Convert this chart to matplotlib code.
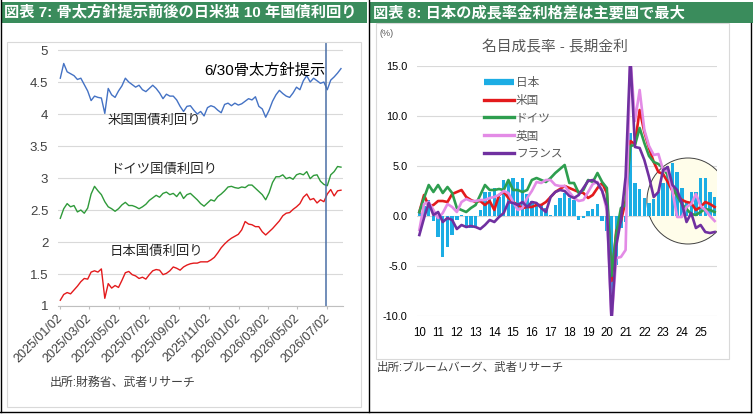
import numpy as np
import pandas as pd
import matplotlib
matplotlib.use('Agg')
import matplotlib.pyplot as plt
from matplotlib.patches import Rectangle, Ellipse
from matplotlib.lines import Line2D

plt.rcParams['font.family'] = ['Liberation Sans', 'Noto Sans CJK JP', 'DejaVu Sans']

# ---- left panel data: weekly 10y yields (%) ----
us_10y = [4.56, 4.79, 4.66, 4.63, 4.60, 4.54, 4.56, 4.46, 4.36, 4.21,
          4.28, 4.26, 4.25, 4.01, 4.40, 4.30, 4.26, 4.36, 4.44, 4.56,
          4.50, 4.46, 4.42, 4.45, 4.38, 4.35, 4.40, 4.45, 4.40, 4.33,
          4.24, 4.31, 4.28, 4.28, 4.22, 4.12, 4.04, 4.12, 4.13, 4.06,
          4.00, 4.04, 3.97, 4.10, 4.13, 4.11, 4.06, 4.02, 4.15, 4.17,
          4.13, 4.17, 4.14, 4.16, 4.20, 4.24, 4.22, 4.27, 4.12, 4.08,
          3.95, 4.06, 4.20, 4.30, 4.37, 4.32, 4.28, 4.26, 4.33, 4.42,
          4.38, 4.52, 4.60, 4.50, 4.56, 4.52, 4.48, 4.50, 4.38, 4.53,
          4.58, 4.64, 4.71]
de_10y = [2.37, 2.52, 2.60, 2.55, 2.57, 2.47, 2.50, 2.45, 2.53, 2.75,
          2.87, 2.80, 2.74, 2.63, 2.55, 2.52, 2.48, 2.52, 2.58, 2.62,
          2.57, 2.57, 2.55, 2.52, 2.55, 2.59, 2.65, 2.69, 2.73, 2.70,
          2.76, 2.78, 2.74, 2.76, 2.71, 2.78, 2.68, 2.74, 2.76, 2.71,
          2.66, 2.60, 2.56, 2.61, 2.66, 2.64, 2.71, 2.75, 2.80, 2.86,
          2.87, 2.85, 2.84, 2.86, 2.85, 2.89, 2.89, 2.84, 2.79, 2.74,
          2.66, 2.77, 2.93, 3.02, 3.02, 3.05, 2.99, 3.01, 2.98, 3.05,
          3.07, 3.05, 3.10, 2.99, 3.04, 3.05, 2.95, 2.90, 2.88, 3.05,
          3.10, 3.18, 3.17]
jp_10y = [1.09, 1.18, 1.21, 1.19, 1.25, 1.31, 1.38, 1.43, 1.42, 1.53,
          1.55, 1.53, 1.58, 1.12, 1.35, 1.28, 1.32, 1.29, 1.40, 1.52,
          1.54, 1.49, 1.47, 1.43, 1.45, 1.42, 1.49, 1.55, 1.57, 1.56,
          1.49, 1.51, 1.55, 1.61, 1.59, 1.56, 1.61, 1.64, 1.66, 1.67,
          1.67, 1.69, 1.69, 1.69, 1.72, 1.76, 1.83, 1.91, 1.97, 2.02,
          2.06, 2.09, 2.12, 2.19, 2.32, 2.28, 2.27, 2.24, 2.24, 2.16,
          2.11, 2.16, 2.21, 2.27, 2.33, 2.41, 2.45, 2.46, 2.51, 2.55,
          2.60, 2.70, 2.75, 2.66, 2.68, 2.61, 2.66, 2.63, 2.75, 2.82,
          2.72, 2.80, 2.81]
start_date = '2025-01-02'
event_date = '2026-06-30'
date_ticks = ['2025-01-02', '2025-03-02', '2025-05-02', '2025-07-02', '2025-09-02',
              '2025-11-02', '2026-01-02', '2026-03-02', '2026-05-02', '2026-07-02']
date_labels = [d.replace('-', '/') for d in date_ticks]

# ---- right panel data: nominal growth - long rate (%), quarterly 2010Q1.. ----
year_labels = [str(y) for y in range(10, 26)]
japan = [0.3, 1.0, 1.6, -0.5, -2.1, -4.1, -3.1, -1.9, -0.4, 0.1,
         -1.1, -1.2, -1.2, 0.6, 2.4, 2.4, 2.8, 1.9, 3.6, 3.6,
         3.8, 3.4, 3.8, 2.2, 1.5, 1.3, 1.1, 0.8, 0.1, 1.1,
         1.8, 2.3, 1.8, 1.6, -0.4, -0.2, 0.5, 0.7, 1.2, -0.5,
         -1.5, -7.8, -4.9, -1.2, -0.6, 8.3, 3.3, 2.7, 1.8, 1.3,
         1.7, 2.4, 3.3, 5.0, 5.3, 4.4, 2.8, 1.4, 2.4, 2.4,
         3.8, 3.8, 2.4, 1.9]
usa = [0.4, 2.1, 1.0, 1.1, 1.5, 1.5, 1.4, 2.2, 2.4, 2.6,
       1.9, 1.6, 1.4, 1.5, 1.1, 1.5, 0.6, 2.1, 2.4, 1.8,
       1.4, 1.1, 0.8, 0.9, 0.9, 1.1, 1.1, 1.4, 1.9, 2.4,
       2.7, 3.0, 2.8, 2.6, 2.4, 2.3, 1.8, 2.1, 2.8, 3.3,
       2.3, -6.5, -1.5, -0.5, 1.5, 7.5, 7.2, 10.6, 8.4, 6.8,
       5.4, 4.4, 4.2, 3.4, 2.5, 2.1, 1.6, 1.4, 1.3, 0.6,
       0.9, 1.4, 1.2, 0.9]
germany = [0.4, 1.8, 3.1, 2.4, 3.1, 2.3, 2.9, 2.3, 0.8, 0.6,
           0.4, 0.8, 1.1, 2.1, 3.1, 2.6, 2.6, 2.7, 2.6, 3.6,
           2.6, 2.6, 2.4, 2.6, 3.6, 3.8, 3.6, 3.4, 3.8, 4.3,
           4.7, 5.1, 3.3, 3.3, 2.3, 2.6, 3.6, 3.4, 4.3, 3.4,
           2.8, -6.0, -1.8, 0.8, 1.1, 7.0, 7.1, 8.8, 7.3, 6.0,
           5.4, 5.2, 4.8, 4.1, 3.0, 2.0, 1.2, 0.7, 0.2, 0.1,
           0.4, 0.7, 0.6, 0.4]
uk = [-1.4, 1.2, 1.4, 0.6, -0.2, 0.3, 1.2, 0.9, 0.4, 1.4,
      1.7, 1.5, 1.5, 1.6, 1.6, 1.8, 1.9, 2.1, 2.5, 2.3,
      1.4, 0.6, 0.8, 1.8, 2.5, 3.4, 3.3, 3.6, 3.6, 3.1,
      3.0, 3.0, 2.4, 1.8, 1.5, 1.6, 2.4, 3.2, 3.4, 2.6,
      0.5, -10.5, -4.2, -4.1, -3.4, 16.0, 9.5, 12.6, 8.6, 7.0,
      6.1, 6.2, 4.6, 4.5, 2.5, -0.1, -0.1, 0.9, 1.2, 2.2,
      1.0, 0.6, 0.0, -0.5]
france = [-1.9, -0.2, 1.3, 0.1, 0.4, -0.6, -0.2, -0.4, -1.3, -0.9,
          -1.1, -1.0, -1.1, -1.3, -0.9, -0.4, -0.6, -0.1, 0.3, 1.4,
          1.3, 1.1, 1.4, 0.9, 1.4, 1.3, 0.8, 0.4, 1.9, 2.4,
          2.6, 2.5, 2.0, 1.8, 2.1, 2.8, 3.5, 3.6, 3.3, 2.5,
          1.0, -10.5, -3.0, -0.4, 3.9, 16.0, 6.9, 6.8, 5.6, 3.9,
          1.9, 2.4, 4.6, 4.9, 3.1, 2.6, 1.3, -0.6, 0.3, -1.2,
          -0.9, -1.6, -1.7, -1.6]

GREEN = '#3a8c5c'
W, H = 754, 416


def fx(x):
    return x / W


def fy(y):
    return 1 - y / H


def box(x0, y0, x1, y1):
    return [x0 / W, 1 - y1 / H, (x1 - x0) / W, (y1 - y0) / H]


fig = plt.figure(figsize=(W / 100, H / 100), dpi=100)

# header bars
for x0, x1, title in [(1, 367, '図表 7: 骨太方針提示前後の日米独 10 年国債利回り'),
                      (370, 753, '図表 8: 日本の成長率金利格差は主要国で最大')]:
    fig.patches.append(Rectangle((fx(x0), fy(23)), (x1 - x0) / W, 21 / H,
                                 transform=fig.transFigure, facecolor=GREEN,
                                 edgecolor='none'))
    fig.text(fx(x0 + 3), fy(12.5), title, color='white', fontsize=11,
             fontweight='bold', ha='left', va='center')

# panel frames
for xs, ys in [([0.5, 0.5], [0, 411.5]), ([368.5, 368.5], [0, 411.5]),
               ([750.5, 750.5], [23, 411.5]), ([0, 750.5], [411.5, 411.5])]:
    fig.add_artist(Line2D([fx(x) for x in xs], [fy(y) for y in ys],
                          transform=fig.transFigure, color='black', lw=1))
for x0, y0, x1, y1 in [(7, 42, 361, 407), (376, 23, 729, 359)]:
    fig.patches.append(Rectangle((fx(x0), fy(y1)), (x1 - x0) / W, (y1 - y0) / H,
                                 transform=fig.transFigure, facecolor='none',
                                 edgecolor='#d9d9d9', lw=0.8))

# ---------------- left chart ----------------
dates = pd.date_range(start_date, periods=len(us_10y), freq='7D')
t0 = pd.Timestamp(start_date)
px_per_day = 267 / 546
ax1 = fig.add_axes(box(58, 43, 343, 306))
ax1.plot(dates, us_10y, color='#4472c4', lw=1.0)
ax1.plot(dates, de_10y, color='#2f9a3a', lw=1.0)
ax1.plot(dates, jp_10y, color='#e31a1c', lw=1.0)
ax1.axvline(pd.Timestamp(event_date), color='#4a6fa5', lw=1.1)
ax1.set_xlim(t0 - pd.Timedelta(days=2.3 / px_per_day),
             t0 + pd.Timedelta(days=282.7 / px_per_day))
ax1.set_ylim(1, 5.11)
yt = np.arange(1, 5.01, 0.5)
ax1.set_yticks(yt)
ax1.set_yticklabels([f'{v:g}' for v in yt])
ax1.set_xticks(pd.to_datetime(date_ticks))
ax1.set_xticklabels(date_labels, rotation=45, ha='right', va='center',
                    rotation_mode='anchor')
for s in ['top', 'right', 'left']:
    ax1.spines[s].set_visible(False)
ax1.spines['bottom'].set_color('#bfbfbf')
ax1.grid(axis='y', color='#d9d9d9', lw=0.8)
ax1.set_axisbelow(True)
ax1.tick_params(axis='y', length=0, labelsize=9.5, labelcolor='#404040', pad=7)
ax1.tick_params(axis='x', length=2.5, color='#bfbfbf', labelsize=9,
                labelcolor='#404040', pad=5)

fig.text(fx(204), fy(71), '6/30骨太方針提示', fontsize=11, ha='left', va='center')
fig.text(fx(108), fy(121), '米国国債利回り', fontsize=9.6, ha='left', va='center',
         color='#262626')
fig.text(fx(110), fy(170), 'ドイツ国債利回り', fontsize=9.6, ha='left', va='center',
         color='#262626')
fig.text(fx(110), fy(252), '日本国債利回り', fontsize=9.6, ha='left', va='center',
         color='#262626')
fig.text(fx(50), fy(383), '出所:財務省、武者リサーチ', fontsize=8.6, ha='left',
         va='center', color='#404040')

# ---------------- right chart ----------------
q = np.arange(len(japan))
ax2 = fig.add_axes(box(417, 66, 717, 316))
ax2.add_patch(Ellipse((57.3, 1.5), 17.5, 8.6, facecolor='#fffdea',
                      edgecolor='#404040', lw=0.7, zorder=1))
ax2.bar(q, japan, width=0.72, color='#1cade4', zorder=2, label='日本')
line_series = [(usa, '#e31a1c', '米国'), (germany, '#2e9e4f', 'ドイツ'),
               (uk, '#e38be6', '英国'), (france, '#7030a0', 'フランス')]
for vals, col, name in line_series:
    ax2.plot(q, vals, color=col, lw=1.9, zorder=3, label=name)
ax2.set_xlim(-0.5, len(japan) - 0.5)
ax2.set_ylim(-10, 15)
ax2.set_yticks([-10, -5, 0, 5, 10, 15])
ax2.set_yticklabels([f'{v:.1f}' for v in [-10, -5, 0, 5, 10, 15]])
ax2.set_xticks(q[::4])
ax2.set_xticklabels(year_labels)
for s in ax2.spines.values():
    s.set_visible(False)
ax2.grid(axis='y', color='#d9d9d9', lw=0.8)
ax2.set_axisbelow(True)
ax2.tick_params(axis='y', length=0, labelsize=7.8, pad=7)
ax2.tick_params(axis='x', length=0, labelsize=8.3, pad=8)

handles = [Line2D([], [], color='#1cade4', lw=4.5, solid_capstyle='butt')]
handles += [Line2D([], [], color=c, lw=2.4) for _, c, _ in line_series]
labels = ['日本'] + [n for _, _, n in line_series]
ax2.legend(handles, labels, loc='upper left', bbox_to_anchor=(fx(478), fy(71)),
           bbox_transform=fig.transFigure, frameon=False, fontsize=8.4,
           handlelength=2.6, handletextpad=0.15, labelspacing=0.5,
           labelcolor='#595959', borderpad=0)

fig.text(fx(555), fy(47), '名目成長率 - 長期金利', fontsize=10.6, ha='center',
         va='center', color='#595959')
fig.text(fx(379), fy(33), '(%)', fontsize=6.5, ha='left', va='center',
         color='#595959')
fig.text(fx(377), fy(368), '出所:ブルームバーグ、武者リサーチ', fontsize=8.3,
         ha='left', va='center', color='#404040')

fig.savefig('out.png', dpi=100)
